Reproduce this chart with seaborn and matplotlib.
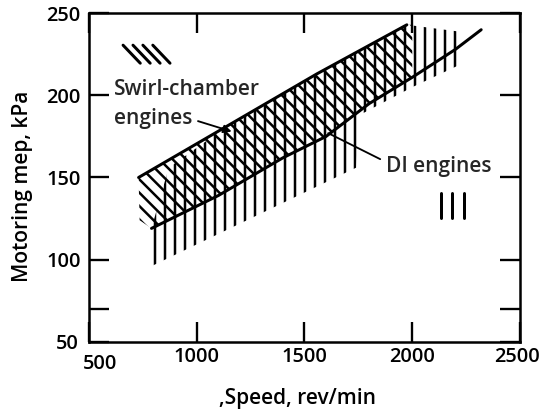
import matplotlib
matplotlib.use("Agg")
import matplotlib.pyplot as plt
from matplotlib.lines import Line2D
from matplotlib.transforms import ScaledTranslation
import pandas as pd
import seaborn as sns

# Upper edge of the swirl-chamber band (speed in rev/min, mep in kPa)
swirl_top_speed = [730, 1150, 1556, 1975, 2000]
swirl_top_mep = [150, 182, 213, 243, 243]

# Mean line for the DI engines
di_line_speed = [790, 1100, 1400, 1600, 1800, 2000, 2200, 2320]
di_line_mep = [119, 139, 162, 175, 195, 211, 228, 240]

# Lower edge of the swirl-chamber band (runs along the DI line)
swirl_bottom_speed = [2000, 1800, 1600, 1400, 1100, 790, 735]
swirl_bottom_mep = [211, 195, 175, 162, 139, 119, 124]

# Scatter band of the DI engines
di_top_speed = [790, 870, 1150, 1556, 1975, 2210]
di_top_mep = [119, 156, 182, 213, 243, 239]
di_bottom_speed = [2210, 2000, 1755, 1740, 790]
di_bottom_mep = [218, 205, 188, 156, 96]

x_ticks = [500, 1000, 1500, 2000, 2500]
y_ticks = [50, 70, 100, 150, 200, 250]
y_tick_labels = ["50", "", "100", "150", "200", "250"]

sns.set_theme(style="ticks")
plt.rcParams["font.family"] = ["Open Sans", "DejaVu Sans"]
plt.rcParams["font.weight"] = "semibold"
plt.rcParams["axes.labelweight"] = "semibold"
plt.rcParams["hatch.linewidth"] = 1.5
plt.rcParams["hatch.color"] = "black"

fig = plt.figure(figsize=(542 / 120, 417 / 120), dpi=120)
ax = fig.add_axes([0.1642, 0.1806, 0.7952, 0.7875])

# Hatched bands
ax.fill(di_top_speed + di_bottom_speed, di_top_mep + di_bottom_mep,
        facecolor="none", edgecolor="black", hatch="||", linewidth=0)
ax.fill(swirl_top_speed + swirl_bottom_speed, swirl_top_mep + swirl_bottom_mep,
        facecolor="none", edgecolor="black", hatch="\\\\\\", linewidth=0)

# Boundary lines
top_df = pd.DataFrame({"speed": swirl_top_speed[:-1], "mep": swirl_top_mep[:-1]})
di_df = pd.DataFrame({"speed": di_line_speed, "mep": di_line_mep})
sns.lineplot(data=top_df, x="speed", y="mep", ax=ax, color="black", lw=1.8,
             estimator=None, sort=False)
sns.lineplot(data=di_df, x="speed", y="mep", ax=ax, color="black", lw=1.8,
             estimator=None, sort=False)

ax.set_xlim(500, 2500)
ax.set_ylim(50, 250)
ax.set_xticks(x_ticks)
ax.set_xticklabels([str(v) for v in x_ticks])
ax.set_yticks(y_ticks)
ax.set_yticklabels(y_tick_labels)
ax.tick_params(axis="both", direction="in", length=12, width=1.4,
               colors="black", labelsize=12, top=True, right=True)
ax.tick_params(axis="x", pad=3)
ax.tick_params(axis="y", pad=5)
for s in ax.spines.values():
    s.set_linewidth(1.5)
    s.set_color("black")

# Corner labels sit slightly off the corner
xt = ax.get_xticklabels()
xt[0].set_transform(xt[0].get_transform() + ScaledTranslation(11 / 120, -7 / 120, fig.dpi_scale_trans))
xt[-1].set_transform(xt[-1].get_transform() + ScaledTranslation(-3 / 120, 0, fig.dpi_scale_trans))
yt = ax.get_yticklabels()
yt[0].set_transform(yt[0].get_transform() + ScaledTranslation(-2 / 120, 0, fig.dpi_scale_trans))

ax.set_xlabel(",Speed, rev/min", fontsize=12.5, color="black")
ax.set_ylabel("Motoring mep, kPa", fontsize=12.5, color="black")
ax.xaxis.set_label_coords(0.483, -0.142)
ax.yaxis.set_label_coords(-0.131, 0.472)

# Band labels
ax.text(617, 203.5, "Swirl-chamber", fontsize=12.5, ha="left", va="center")
ax.annotate("engines", xy=(1162, 178), xytext=(617, 186),
            fontsize=12.5, ha="left", va="center",
            arrowprops=dict(arrowstyle="-|>", color="black", lw=1.1,
                            mutation_scale=10, shrinkA=1, shrinkB=0,
                            relpos=(1.0, 0.45)))
ax.annotate("DI engines", xy=(1610, 177), xytext=(1876, 157),
            fontsize=12.5, ha="left", va="center",
            arrowprops=dict(arrowstyle="-", color="black", lw=1.1,
                            shrinkA=1, shrinkB=0, relpos=(0, 0.7)))

# Hatch keys
for i in range(4):
    x0 = 0.079 + i * 0.023
    ax.add_line(Line2D([x0, x0 + 0.040], [0.903, 0.848], transform=ax.transAxes,
                       color="black", lw=1.8))
for i in range(3):
    x0 = 0.817 + i * 0.026
    ax.add_line(Line2D([x0, x0], [0.376, 0.452], transform=ax.transAxes,
                       color="black", lw=1.8))

fig.savefig("out.png", dpi=120)
